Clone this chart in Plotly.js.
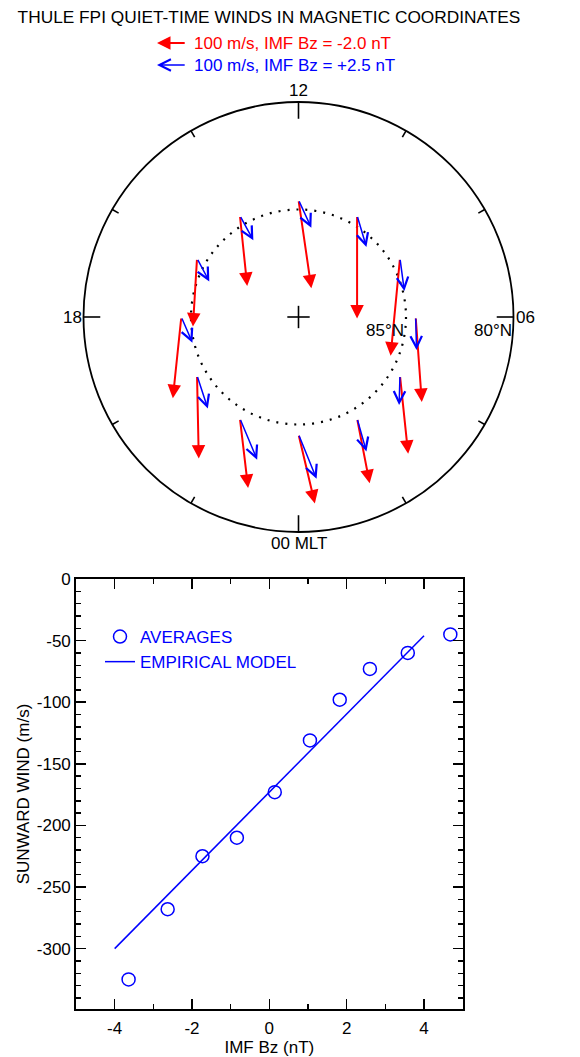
<!DOCTYPE html>
<html><head><meta charset="utf-8">
<script src="https://cdn.plot.ly/plotly-3.0.1.min.js"></script>
<style>html,body{margin:0;padding:0;background:#fff}#chart{width:580px;height:1057px}</style>
</head><body><div id="chart"></div>
<script>
// ---------------- DATA ----------------
// Dial (top): winds at 2-hour MLT steps, components in m/s
const mltHours   = [0, 2, 4, 6, 8, 10, 12, 14, 16, 18, 20, 22];
const stationLat = 84.55;                 // magnetic latitude of the wind observations (deg N)
const redDawn    = [56, 43, 28, 21, -32, 0, 44, 25, -14, -29, 6, 28];            // toward 06 MLT, IMF Bz = -2.0 nT
const redSun     = [-237, -222, -268, -291, -333, -353, -303, -241, -233, -278, -284, -238]; // toward 12 MLT
const blueDawn   = [62, 32, -3, 3, 15, 32, 44, 46, 42, 38, 37, 59];              // IMF Bz = +2.5 nT
const blueSun    = [-153, -113, -101, -113, -112, -108, -96, -85, -79, -88, -113, -141];
const refSpeed   = 100;                   // legend arrow, m/s
const dialLabels = ['00 MLT', '06', '12', '18'];
const dialLabelHours = [0, 6, 12, 18];
const latCircles = [80, 85];
const latLabels  = ['80°N', '85°N'];
const titleText  = 'THULE FPI QUIET-TIME WINDS IN MAGNETIC COORDINATES';
const redLegend  = '100 m/s, IMF Bz = -2.0 nT';
const blueLegend = '100 m/s, IMF Bz = +2.5 nT';

// Scatter (bottom)
const imfBz       = [-3.64, -2.63, -1.73, -0.84, 0.14, 1.05, 1.82, 2.60, 3.58, 4.68];
const sunwardWind = [-325, -268, -225, -210, -173, -131, -98, -73, -60, -45];
const modelBz     = [-4, 4];
const modelWind   = [-300, -46];
const xTickVals   = [-4, -2, 0, 2, 4];
const xTickText   = ['-4', '-2', '0', '2', '4'];
const yTickVals   = [0, -50, -100, -150, -200, -250, -300];
const yTickText   = ['0', '-50', '-100', '-150', '-200', '-250', '-300'];

// ---------------- GEOMETRY ----------------
const W = 580, H = 1057;
const cx = 298.5, cy = 317, ppd = 21.5;         // dial centre (px) and px per degree colatitude
const degPerMs = 0.292 / ppd;                   // arrow scale: 29.2 px per 100 m/s
const RED = '#ff0000', BLUE = '#0000ff';

const toX = px => (px - cx) / ppd;
const toY = py => (cy - py) / ppd;

function dialPos(h, colat) {
  const th = (h - 6) * Math.PI / 12;
  return [colat * Math.cos(th), colat * Math.sin(th)];
}

const annotations = [];
const shapes = [];
const RED_STYLE  = {head: 2, width: 2, size: 1.35};
const BLUE_STYLE = {head: 5, width: 1.5, size: 1.5};

function windArrow(h, vd, vs, color, st) {
  const [x0, y0] = dialPos(h, 90 - stationLat);
  annotations.push({
    xref: 'x2', yref: 'y2', axref: 'x2', ayref: 'y2',
    x: x0 + vd * degPerMs, y: y0 + vs * degPerMs, ax: x0, ay: y0,
    text: '', showarrow: true, arrowhead: st.head, arrowsize: st.size,
    arrowwidth: st.width, arrowcolor: color, standoff: 0, startstandoff: 0
  });
}
mltHours.forEach((h, i) => windArrow(h, redDawn[i], redSun[i], RED, RED_STYLE));
mltHours.forEach((h, i) => windArrow(h, blueDawn[i], blueSun[i], BLUE, BLUE_STYLE));

// legend arrows at the top
[[43, RED, RED_STYLE, redLegend], [65, BLUE, BLUE_STYLE, blueLegend]].forEach(([py, col, st, txt]) => {
  const tipX = toX(157), yy = toY(py);
  annotations.push({
    xref: 'x2', yref: 'y2', axref: 'x2', ayref: 'y2',
    x: tipX, y: yy, ax: tipX + refSpeed * degPerMs, ay: yy,
    text: '', showarrow: true, arrowhead: st.head, arrowsize: st.size, arrowwidth: st.width,
    arrowcolor: col, standoff: 0
  });
  annotations.push({
    xref: 'x2', yref: 'y2', x: toX(192), y: yy, xanchor: 'left', yanchor: 'middle',
    text: txt, showarrow: false, font: {size: 17, color: col}
  });
});

// latitude circles
latCircles.forEach((lat, i) => {
  const r = 90 - lat;
  shapes.push({
    type: 'circle', xref: 'x2', yref: 'y2', x0: -r, x1: r, y0: -r, y1: r,
    line: lat === 80 ? {color: 'black', width: 1.8} : {color: 'black', width: 2.2, dash: '2px,7px'}
  });
  annotations.push({
    xref: 'x2', yref: 'y2', x: r, y: 0, xanchor: 'right', yanchor: 'top', yshift: -2,
    text: latLabels[i], showarrow: false, font: {size: 17, color: 'black'}
  });
});

// hour ticks on the outer circle
const rOut = 90 - latCircles[0];
for (let h = 0; h < 24; h += 2) {
  const len = (h % 6 === 0) ? 0.78 : 0.34;
  const [xa, ya] = dialPos(h, rOut);
  const [xb, yb] = dialPos(h, rOut - len);
  shapes.push({type: 'line', xref: 'x2', yref: 'y2', x0: xa, y0: ya, x1: xb, y1: yb,
               line: {color: 'black', width: 1.6}});
}
// centre cross
shapes.push({type: 'line', xref: 'x2', yref: 'y2', x0: -0.52, x1: 0.52, y0: 0, y1: 0, line: {color: 'black', width: 1.6}});
shapes.push({type: 'line', xref: 'x2', yref: 'y2', x0: 0, x1: 0, y0: -0.52, y1: 0.52, line: {color: 'black', width: 1.6}});

// hour labels
dialLabelHours.forEach((h, i) => {
  const [x, y] = dialPos(h, rOut);
  const a = {xref: 'x2', yref: 'y2', x: x, y: y, text: dialLabels[i], showarrow: false,
             font: {size: 17, color: 'black'}};
  if (h === 12) { a.xanchor = 'center'; a.yanchor = 'bottom'; }
  if (h === 0)  { a.xanchor = 'center'; a.yanchor = 'top'; }
  if (h === 6)  { a.xanchor = 'left';  a.yanchor = 'middle'; }
  if (h === 18) { a.xanchor = 'right'; a.yanchor = 'middle'; }
  annotations.push(a);
});

// ---------------- TRACES ----------------
const traces = [
  {x: [0], y: [0], xaxis: 'x2', yaxis: 'y2', mode: 'markers', marker: {opacity: 0}, showlegend: false, hoverinfo: 'skip'},
  {x: imfBz, y: sunwardWind, xaxis: 'x', yaxis: 'y', mode: 'markers', name: 'AVERAGES',
   marker: {symbol: 'circle-open', size: 13, color: BLUE, line: {width: 1.5, color: BLUE}}},
  {x: modelBz, y: modelWind, xaxis: 'x', yaxis: 'y', mode: 'lines', name: 'EMPIRICAL MODEL',
   line: {color: BLUE, width: 1.5}}
];

const axBase = {
  showline: true, linecolor: 'black', linewidth: 1.8, mirror: 'allticks',
  ticks: 'inside', ticklen: 10, tickwidth: 1.5, tickcolor: 'black',
  showgrid: false, zeroline: false, tickfont: {size: 17, color: 'black'},
  fixedrange: true
};

const layout = {
  width: W, height: H,
  margin: {l: 0, r: 0, t: 0, b: 0},
  paper_bgcolor: 'white', plot_bgcolor: 'rgba(0,0,0,0)',
  font: {family: 'Liberation Sans, Arial, sans-serif', size: 17, color: 'black'},
  title: {text: titleText, x: 269 / W, xanchor: 'center', y: 1 - 17 / H, yanchor: 'middle',
          font: {size: 17.3, color: 'black'}},
  showlegend: true,
  legend: {x: 100 / W, xanchor: 'left', y: 1 - 619 / H, yanchor: 'top', bgcolor: 'rgba(0,0,0,0)',
           font: {size: 17, color: BLUE}, itemwidth: 30},
  xaxis: Object.assign({}, axBase, {
    domain: [76 / W, 462.7 / W], anchor: 'y', range: [-5, 5],
    tickmode: 'array', tickvals: xTickVals, ticktext: xTickText, ticklabelstandoff: 3,
    minor: {dtick: 1, tick0: 0, ticks: 'inside', ticklen: 5, tickwidth: 1.5, tickcolor: 'black'},
    title: {text: 'IMF Bz (nT)', font: {size: 17}, standoff: 4}
  }),
  yaxis: Object.assign({}, axBase, {
    domain: [1 - 1009 / H, 1 - 579 / H], anchor: 'x', range: [-349, 0],
    tickmode: 'array', tickvals: yTickVals, ticktext: yTickText,
    minor: {dtick: 10, tick0: 0, ticks: 'inside', ticklen: 5, tickwidth: 1.5, tickcolor: 'black'},
    title: {text: 'SUNWARD WIND (m/s)', font: {size: 17}, standoff: 3}
  }),
  xaxis2: {domain: [0, 1], anchor: 'y2', range: [toX(0), toX(W)], visible: false, fixedrange: true},
  yaxis2: {domain: [0, 1], anchor: 'x2', range: [toY(H), toY(0)], visible: false, fixedrange: true},
  shapes: shapes,
  annotations: annotations
};

Plotly.newPlot('chart', traces, layout, {staticPlot: true, displayModeBar: false});
</script>
</body></html>
